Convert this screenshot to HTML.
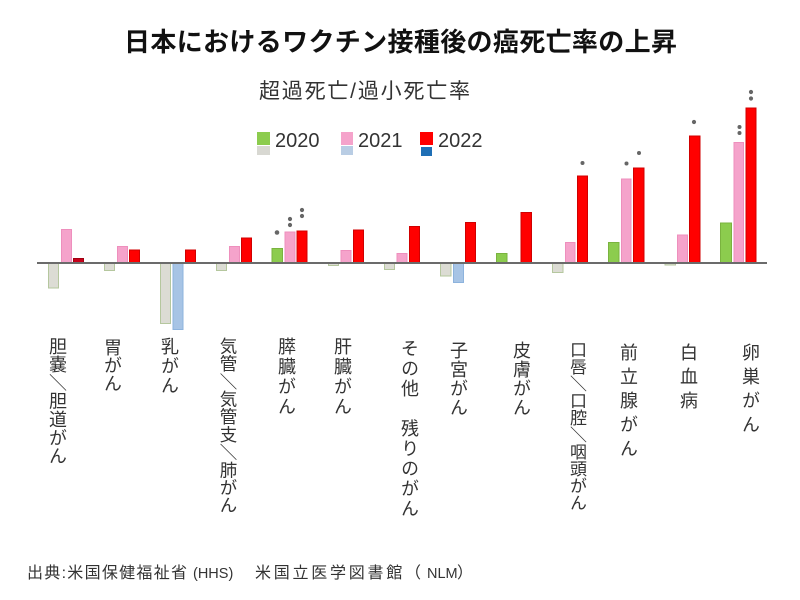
<!DOCTYPE html>
<html>
<head>
<meta charset="utf-8">
<style>
html,body{margin:0;padding:0;background:#fff;}
#wrap{position:relative;width:800px;height:600px;overflow:hidden;background:#fff;}
svg{position:absolute;left:0;top:0;}
.v{position:absolute;writing-mode:vertical-rl;font-family:"Noto Sans CJK JP","Liberation Sans",sans-serif;color:#333;white-space:nowrap;}
</style>
</head>
<body>
<div id="wrap">
<svg width="800" height="600" viewBox="0 0 800 600" xmlns="http://www.w3.org/2000/svg">
  <!-- title -->
  <text x="124" y="51" font-family="Liberation Sans, Noto Sans CJK JP, sans-serif" font-size="26" font-weight="bold" fill="#111" textLength="553" lengthAdjust="spacing">日本におけるワクチン接種後の癌死亡率の上昇</text>
  <!-- subtitle -->
  <text x="259" y="98" font-family="Liberation Sans, Noto Sans CJK JP, sans-serif" font-size="21" fill="#333" textLength="211" lengthAdjust="spacing">超過死亡/過小死亡率</text>

  <!-- legend -->
  <rect x="257" y="132" width="13" height="13" fill="#8ccc4e"/>
  <rect x="257" y="146" width="13" height="9" fill="#d8d8d2"/>
  <text x="275" y="147" font-family="Liberation Sans, sans-serif" font-size="20" fill="#333">2020</text>
  <rect x="341" y="132" width="12" height="13" fill="#f5a3cb"/>
  <rect x="341" y="146" width="12" height="9" fill="#b9cde4"/>
  <text x="358" y="147" font-family="Liberation Sans, sans-serif" font-size="20" fill="#333">2021</text>
  <rect x="420" y="132" width="13" height="13" fill="#ff0000"/>
  <rect x="421" y="147" width="11" height="9" fill="#1f6fb5"/>
  <text x="438" y="147" font-family="Liberation Sans, sans-serif" font-size="20" fill="#333">2022</text>

  <g stroke-width="1">
  <!-- G1 -->
  <rect x="48.5" y="263.5" width="10" height="24.5" fill="#dcdcd4" stroke="#b5c79e"/>
  <rect x="61.5" y="229.5" width="10" height="33" fill="#f5a3cb" stroke="#ee8fbd"/>
  <rect x="73.5" y="258.5" width="10" height="4" fill="#c8001a" stroke="#a00010"/>
  <!-- G2 -->
  <rect x="104.5" y="263.5" width="10" height="7" fill="#dcdcd4" stroke="#b5c79e"/>
  <rect x="117.5" y="246.5" width="10" height="16" fill="#f5a3cb" stroke="#ee8fbd"/>
  <rect x="129.5" y="250" width="10" height="12.5" fill="#ff0000" stroke="#d00000"/>
  <!-- G3 -->
  <rect x="160.5" y="263.5" width="10" height="60" fill="#dcdcd4" stroke="#b5c79e"/>
  <rect x="173" y="263.5" width="10" height="66" fill="#a7c4e5" stroke="#8db3dd"/>
  <rect x="185.5" y="250" width="10" height="12.5" fill="#ff0000" stroke="#d00000"/>
  <!-- G4 -->
  <rect x="216.5" y="263.5" width="10" height="7" fill="#dcdcd4" stroke="#b5c79e"/>
  <rect x="229.5" y="246.5" width="10" height="16" fill="#f5a3cb" stroke="#ee8fbd"/>
  <rect x="241.5" y="238" width="10" height="24.5" fill="#ff0000" stroke="#d00000"/>
  <!-- G5 -->
  <rect x="272" y="248.5" width="10.5" height="14" fill="#8ccc4e" stroke="#7ab33f"/>
  <rect x="285" y="232" width="10" height="30.5" fill="#f5a3cb" stroke="#ee8fbd"/>
  <rect x="297" y="231" width="10" height="31.5" fill="#ff0000" stroke="#d00000"/>
  <!-- G6 -->
  <rect x="328.5" y="263.5" width="10" height="2" fill="#dcdcd4" stroke="#b5c79e"/>
  <rect x="341" y="250.5" width="10" height="12" fill="#f5a3cb" stroke="#ee8fbd"/>
  <rect x="353.5" y="230" width="10" height="32.5" fill="#ff0000" stroke="#d00000"/>
  <!-- G7 -->
  <rect x="384.5" y="263.5" width="10" height="6" fill="#dcdcd4" stroke="#b5c79e"/>
  <rect x="397" y="253.5" width="10" height="9" fill="#f5a3cb" stroke="#ee8fbd"/>
  <rect x="409.5" y="226.5" width="10" height="36" fill="#ff0000" stroke="#d00000"/>
  <!-- G8 -->
  <rect x="440.5" y="263.5" width="10.5" height="12.5" fill="#dcdcd4" stroke="#b5c79e"/>
  <rect x="453.5" y="263.5" width="10" height="19" fill="#a7c4e5" stroke="#8db3dd"/>
  <rect x="465.5" y="222.5" width="10" height="40" fill="#ff0000" stroke="#d00000"/>
  <!-- G9 -->
  <rect x="496.5" y="253.5" width="10.5" height="9" fill="#8ccc4e" stroke="#7ab33f"/>
  <rect x="521" y="212.5" width="10.5" height="50" fill="#ff0000" stroke="#d00000"/>
  <!-- G10 -->
  <rect x="552.5" y="263.5" width="10.5" height="9" fill="#dcdcd4" stroke="#b5c79e"/>
  <rect x="565.5" y="242.5" width="9.5" height="20" fill="#f5a3cb" stroke="#ee8fbd"/>
  <rect x="577.5" y="176" width="10" height="86.5" fill="#ff0000" stroke="#d00000"/>
  <!-- G11 -->
  <rect x="608.5" y="242.5" width="10.5" height="20" fill="#8ccc4e" stroke="#7ab33f"/>
  <rect x="621.5" y="179" width="9.5" height="83.5" fill="#f5a3cb" stroke="#ee8fbd"/>
  <rect x="633.5" y="168" width="10.5" height="94.5" fill="#ff0000" stroke="#d00000"/>
  <!-- G12 -->
  <rect x="665" y="263.5" width="10.5" height="1.5" fill="#dcdcd4" stroke="#b5c79e"/>
  <rect x="677.5" y="235" width="10" height="27.5" fill="#f5a3cb" stroke="#ee8fbd"/>
  <rect x="689.5" y="136" width="10.5" height="126.5" fill="#ff0000" stroke="#d00000"/>
  <!-- G13 -->
  <rect x="720.5" y="223" width="11" height="39.5" fill="#8ccc4e" stroke="#7ab33f"/>
  <rect x="734" y="142.5" width="9.5" height="120" fill="#f5a3cb" stroke="#ee8fbd"/>
  <rect x="746" y="108" width="10" height="154.5" fill="#ff0000" stroke="#d00000"/>
  </g>

  <!-- axis -->
  <line x1="37" y1="263" x2="767" y2="263" stroke="#6b6b6b" stroke-width="2"/>

  <!-- significance marks -->
  <g fill="#666">
    <circle cx="277" cy="232.5" r="2.3"/>
    <circle cx="290" cy="219" r="2.1"/>
    <circle cx="290" cy="225" r="2.1"/>
    <circle cx="302" cy="210" r="2.1"/>
    <circle cx="302" cy="216" r="2.1"/>
    <circle cx="582.5" cy="163" r="2"/>
    <circle cx="626.5" cy="163.5" r="2"/>
    <circle cx="639" cy="153" r="2"/>
    <circle cx="694" cy="122" r="2.1"/>
    <circle cx="739.5" cy="127" r="2"/>
    <circle cx="739.5" cy="133" r="2"/>
    <circle cx="751" cy="92" r="2.1"/>
    <circle cx="751" cy="98.5" r="2.1"/>
  </g>

  <!-- footer -->
  <g font-family="Liberation Sans, Noto Sans CJK JP, sans-serif" fill="#333">
    <text x="27" y="578" font-size="16" textLength="160" lengthAdjust="spacing">出典:米国保健福祉省</text>
    <text x="193" y="578" font-size="14.5">(HHS)</text>
    <text x="255" y="578" font-size="16" textLength="166" lengthAdjust="spacing">米国立医学図書館（</text>
    <text x="427" y="578" font-size="14.5">NLM</text>
    <text x="457" y="578" font-size="16">）</text>
  </g>
</svg>

<div class="v" style="left:49px;top:337px;font-size:18px;line-height:18px;width:18px;letter-spacing:0.3px;">胆嚢＼胆道がん</div>
<div class="v" style="left:104px;top:338px;font-size:18px;line-height:18px;width:18px;letter-spacing:0px;">胃がん</div>
<div class="v" style="left:161px;top:337px;font-size:18px;line-height:18px;width:18px;letter-spacing:1.5px;">乳がん</div>
<div class="v" style="left:219px;top:337px;font-size:17.5px;line-height:18px;width:18px;letter-spacing:0.2px;">気管＼気管支＼肺がん</div>
<div class="v" style="left:278px;top:337px;font-size:18px;line-height:18px;width:18px;letter-spacing:2px;">膵臓がん</div>
<div class="v" style="left:334px;top:337px;font-size:18px;line-height:18px;width:18px;letter-spacing:2px;">肝臓がん</div>
<div class="v" style="left:401px;top:339px;font-size:18px;line-height:18px;width:18px;letter-spacing:2px;">その他　残りのがん</div>
<div class="v" style="left:450px;top:341px;font-size:18px;line-height:18px;width:18px;letter-spacing:1px;">子宮がん</div>
<div class="v" style="left:513px;top:341px;font-size:18px;line-height:18px;width:18px;letter-spacing:1px;">皮膚がん</div>
<div class="v" style="left:569px;top:341px;font-size:17px;line-height:18px;width:18px;letter-spacing:0px;">口唇＼口腔＼咽頭がん</div>
<div class="v" style="left:620px;top:343px;font-size:18px;line-height:18px;width:18px;letter-spacing:6px;">前立腺がん</div>
<div class="v" style="left:680px;top:343px;font-size:18px;line-height:18px;width:18px;letter-spacing:6px;">白血病</div>
<div class="v" style="left:742px;top:343px;font-size:18px;line-height:18px;width:18px;letter-spacing:6px;">卵巣がん</div>
</div>
</body>
</html>
